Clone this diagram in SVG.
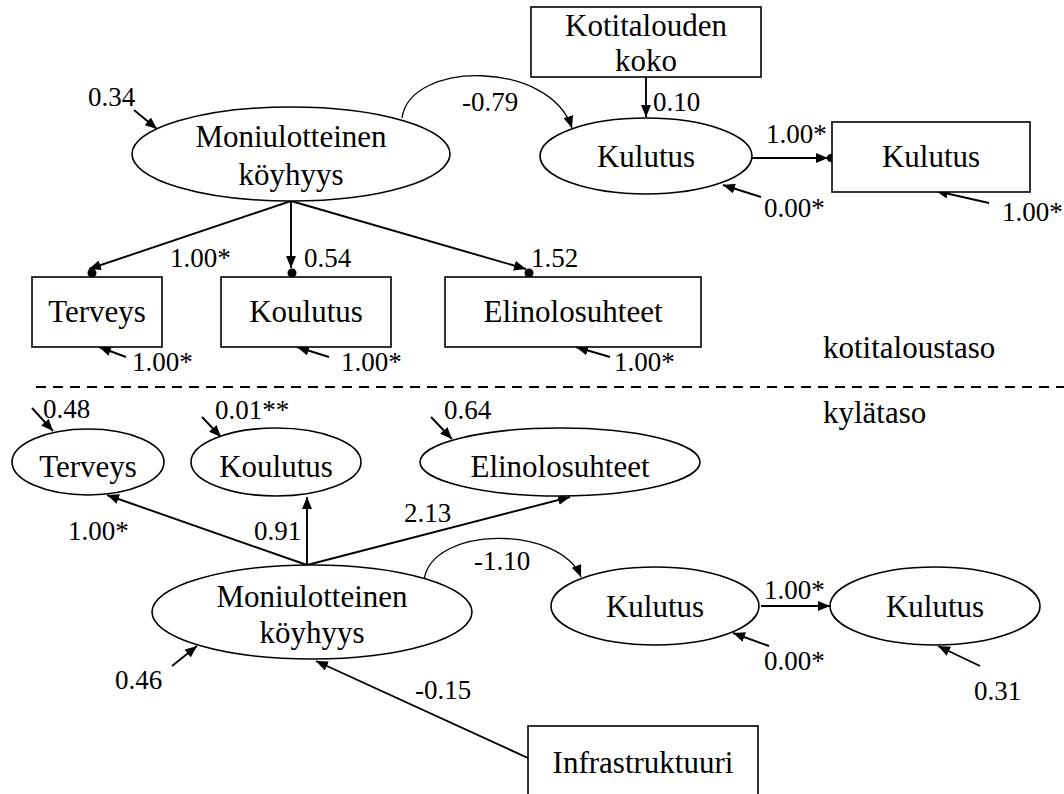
<svg xmlns="http://www.w3.org/2000/svg" width="1064" height="794" viewBox="0 0 1064 794">
<defs>
<style>
.node{fill:#fff;stroke:#000;stroke-width:1.6}
.t{font-family:'Liberation Serif','DejaVu Serif',serif;font-size:31px;fill:#000;text-anchor:middle}
.l{font-family:'Liberation Serif','DejaVu Serif',serif;font-size:27px;fill:#000}
.a{fill:none;stroke:#000;stroke-width:1.9;marker-end:url(#ah)}
.thin{fill:none;stroke:#000;stroke-width:1.3;marker-end:url(#ah)}
</style>
<marker id="ah" markerUnits="userSpaceOnUse" markerWidth="13" markerHeight="10" refX="12" refY="5" orient="auto">
<path d="M0,0 L12,5 L0,10 z" fill="#000"/>
</marker>
</defs>
<rect width="1064" height="794" fill="#fff"/>

<g id="connectors">
<path class="a" d="M134,110 L157,129"/>
<path class="a" d="M646,77 L646,117"/>
<path class="thin" d="M402,118 C410,60 550,60 572,128"/>
<path class="a" d="M752,158 L828,158"/>
<circle cx="831" cy="158" r="4" fill="#000"/>
<path class="a" d="M761,197 L723,185"/>
<path class="a" d="M989,203 L936,191"/>
<path class="a" d="M291,201 L89,269"/>
<circle cx="92" cy="273" r="4.5" fill="#000"/>
<path class="a" d="M291,201 L291,268"/>
<circle cx="292" cy="273" r="4.5" fill="#000"/>
<path class="a" d="M291,201 L526,269"/>
<circle cx="529" cy="273" r="4.5" fill="#000"/>
<path class="a" d="M126,357 L99,347"/>
<path class="a" d="M329,357 L297,347"/>
<path class="a" d="M610,357 L576,347"/>
<line x1="36" y1="387" x2="1064" y2="387" stroke="#000" stroke-width="2.2" stroke-dasharray="10 7"/>
<path class="a" d="M32,408 L53,431"/>
<path class="a" d="M202,417 L221,437"/>
<path class="a" d="M431,417 L452,439"/>
<path class="a" d="M307,565 L107,495"/>
<path class="a" d="M307,565 L307,497"/>
<path class="a" d="M307,565 L570,497"/>
<path class="thin" d="M424,580 C432,525 560,525 581,577"/>
<path class="a" d="M761,606 L830,606"/>
<path class="a" d="M769,646 L733,633"/>
<path class="a" d="M980,666 L938,646"/>
<path class="a" d="M172,666 L197,646"/>
<path class="a" d="M528,758 L316,661"/>
</g>

<g id="n_moni_top">
<ellipse class="node" cx="291" cy="154" rx="159" ry="47"/>
<text class="t" x="291" y="147">Moniulotteinen</text>
<text class="t" x="291" y="185">köyhyys</text>
</g>
<g id="n_koko">
<rect class="node" x="531" y="7" width="230" height="70"/>
<text class="t" x="646" y="36">Kotitalouden</text>
<text class="t" x="646" y="71">koko</text>
</g>
<g id="n_kulutus_lat_top">
<ellipse class="node" cx="646" cy="156" rx="106" ry="38"/>
<text class="t" x="646" y="167">Kulutus</text>
</g>
<g id="n_kulutus_box">
<rect class="node" x="832" y="122" width="198" height="70"/>
<text class="t" x="931" y="167">Kulutus</text>
</g>
<g id="n_terveys_box">
<rect class="node" x="32" y="277" width="130" height="70"/>
<text class="t" x="97" y="322">Terveys</text>
</g>
<g id="n_koulutus_box">
<rect class="node" x="221" y="277" width="170" height="70"/>
<text class="t" x="306" y="322">Koulutus</text>
</g>
<g id="n_elin_box">
<rect class="node" x="445" y="277" width="256" height="70"/>
<text class="t" x="573" y="322">Elinolosuhteet</text>
</g>

<g id="n_terveys_lat">
<ellipse class="node" cx="88" cy="462" rx="76" ry="33"/>
<text class="t" x="88" y="477">Terveys</text>
</g>
<g id="n_koulutus_lat">
<ellipse class="node" cx="276" cy="462" rx="85" ry="34"/>
<text class="t" x="276" y="477">Koulutus</text>
</g>
<g id="n_elin_lat">
<ellipse class="node" cx="560" cy="462" rx="140" ry="34"/>
<text class="t" x="560" y="477">Elinolosuhteet</text>
</g>
<g id="n_moni_low">
<ellipse class="node" cx="312" cy="612" rx="160" ry="47"/>
<text class="t" x="312" y="607">Moniulotteinen</text>
<text class="t" x="312" y="643">köyhyys</text>
</g>
<g id="n_kulutus_low1">
<ellipse class="node" cx="655" cy="606" rx="104" ry="39"/>
<text class="t" x="655" y="617">Kulutus</text>
</g>
<g id="n_kulutus_low2">
<ellipse class="node" cx="935" cy="606" rx="105" ry="39"/>
<text class="t" x="935" y="617">Kulutus</text>
</g>
<g id="n_infra">
<rect class="node" x="528" y="726" width="230" height="70"/>
<text class="t" x="643" y="773">Infrastruktuuri</text>
</g>

<g id="labels">
<text class="l" x="88" y="106">0.34</text>
<text class="l" x="462" y="111">-0.79</text>
<text class="l" x="653" y="111">0.10</text>
<text class="l" x="766" y="143">1.00*</text>
<text class="l" x="764" y="217">0.00*</text>
<text class="l" x="1002" y="221">1.00*</text>
<text class="l" x="170" y="267">1.00*</text>
<text class="l" x="304" y="267">0.54</text>
<text class="l" x="531" y="267">1.52</text>
<text class="l" x="132" y="371">1.00*</text>
<text class="l" x="341" y="371">1.00*</text>
<text class="l" x="614" y="371">1.00*</text>
<text class="t" x="823" y="358" style="text-anchor:start">kotitaloustaso</text>
<text class="t" x="823" y="423" style="text-anchor:start">kylätaso</text>
<text class="l" x="43" y="418">0.48</text>
<text class="l" x="215" y="419">0.01**</text>
<text class="l" x="444" y="419">0.64</text>
<text class="l" x="68" y="540">1.00*</text>
<text class="l" x="254" y="540">0.91</text>
<text class="l" x="404" y="522">2.13</text>
<text class="l" x="474" y="570">-1.10</text>
<text class="l" x="764" y="599">1.00*</text>
<text class="l" x="764" y="670">0.00*</text>
<text class="l" x="974" y="700">0.31</text>
<text class="l" x="415" y="699">-0.15</text>
<text class="l" x="115" y="689">0.46</text>
</g>
</svg>
